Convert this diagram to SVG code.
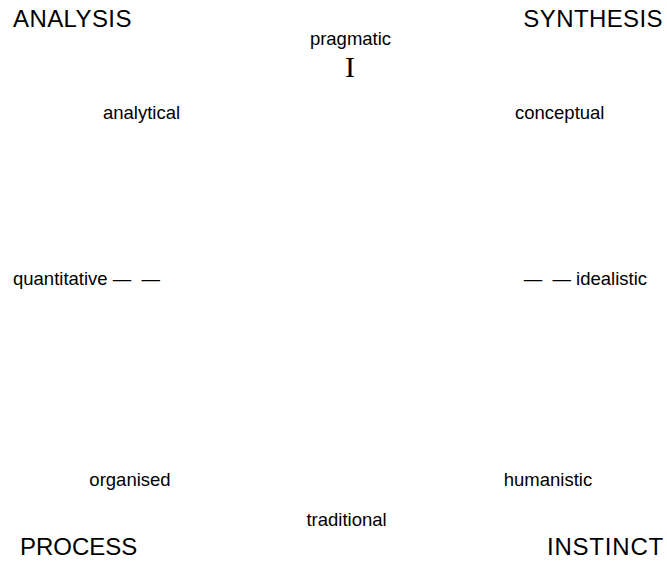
<svg xmlns="http://www.w3.org/2000/svg" width="667" height="564" viewBox="0 0 667 564">
<style>
.big{font-family:"Liberation Sans",Arial,sans-serif;font-size:24px;fill:#000}
.lbl{font-family:"Liberation Sans",Arial,sans-serif;font-size:18.5px;fill:#000}
.ser{font-family:"Liberation Serif","Times New Roman",serif;font-size:30px;fill:#000}
</style>
<rect width="667" height="564" fill="#fff"/>
<g id="analysis"><text class="big" x="13" y="27" letter-spacing="0.4">ANALYSIS</text></g>
<g id="synthesis"><text class="big" x="663" y="27" text-anchor="end" letter-spacing="0.4">SYNTHESIS</text></g>
<g id="process"><text class="big" x="20" y="555">PROCESS</text></g>
<g id="instinct"><text class="big" x="664" y="555" text-anchor="end" letter-spacing="0.8">INSTINCT</text></g>
<g id="pragmatic"><text class="lbl" x="350.5" y="45" text-anchor="middle" font-size="17">pragmatic</text></g>
<g id="marker-i"><text class="ser" x="350" y="77" text-anchor="middle">I</text></g>
<g id="analytical"><text class="lbl" x="141.5" y="119" text-anchor="middle">analytical</text></g>
<g id="conceptual"><text class="lbl" x="515" y="119">conceptual</text></g>
<g id="quantitative"><text class="lbl" x="13" y="285" xml:space="preserve">quantitative —  —</text></g>
<g id="idealistic"><text class="lbl" x="647" y="285" text-anchor="end" xml:space="preserve">—  — idealistic</text></g>
<g id="organised"><text class="lbl" x="130" y="486" text-anchor="middle">organised</text></g>
<g id="humanistic"><text class="lbl" x="548" y="486" text-anchor="middle">humanistic</text></g>
<g id="traditional"><text class="lbl" x="346.5" y="526" text-anchor="middle">traditional</text></g>
<g id="connectors"></g>
</svg>
